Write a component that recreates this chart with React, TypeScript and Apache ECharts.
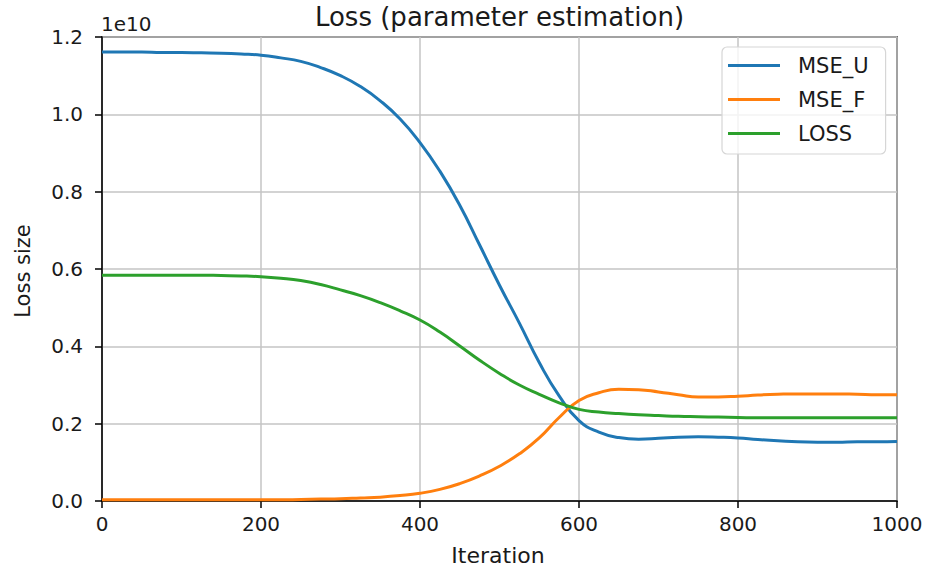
import React, { useEffect, useRef } from "react";
import * as echarts from "echarts";

const iterations = [
  0, 25, 50, 75, 100, 125, 150, 175, 200, 225, 250, 275, 300, 325, 350, 375, 400, 425, 450, 475, 500,
  525, 550, 575, 600, 625, 650, 675, 700, 725, 750, 775, 800, 825, 850, 875, 900, 925, 950, 975, 1000,
];
const mseU = [
  1.161, 1.161, 1.161, 1.160, 1.160, 1.159, 1.158, 1.156, 1.153, 1.146, 1.137, 1.121, 1.100, 1.072, 1.035, 0.988, 0.927, 0.853, 0.765, 0.662, 0.558,
  0.460, 0.358, 0.272, 0.208, 0.178, 0.164, 0.160, 0.162, 0.165, 0.166, 0.165, 0.163, 0.159, 0.156, 0.153, 0.152, 0.152, 0.153, 0.153, 0.154,
];
const mseF = [
  0.003, 0.003, 0.003, 0.003, 0.003, 0.003, 0.003, 0.003, 0.003, 0.003, 0.004, 0.005, 0.006, 0.008, 0.010, 0.014, 0.020, 0.030, 0.045, 0.065, 0.090,
  0.122, 0.163, 0.216, 0.260, 0.280, 0.289, 0.288, 0.282, 0.275, 0.269, 0.269, 0.271, 0.274, 0.276, 0.277, 0.277, 0.277, 0.276, 0.275, 0.275,
];
const loss = [
  0.584, 0.584, 0.584, 0.584, 0.584, 0.584, 0.583, 0.582, 0.580, 0.576, 0.570, 0.560, 0.546, 0.531, 0.513, 0.492, 0.468, 0.437, 0.401, 0.364, 0.330,
  0.300, 0.276, 0.254, 0.237, 0.230, 0.226, 0.223, 0.221, 0.219, 0.218, 0.217, 0.216, 0.215, 0.215, 0.215, 0.215, 0.215, 0.215, 0.215, 0.215,
];

const seriesNames = ["MSE_U", "MSE_F", "LOSS"];
const seriesColors = ["#1f77b4", "#ff7f0e", "#2ca02c"];
const xTicks = [0, 200, 400, 600, 800, 1000];
const yTicks = [0.0, 0.2, 0.4, 0.6, 0.8, 1.0, 1.2];

const titleText = "Loss (parameter estimation)";
const xLabel = "Iteration";
const yLabel = "Loss size";
const scaleText = "1e10";

const FONT = "DejaVu Sans";
const TEXT_COLOR = "#1a1a1a";

export default function App() {
  const ref = useRef<HTMLDivElement>(null);

  useEffect(() => {
    document.body.style.margin = "0";
    if (!ref.current) return;
    const chart = echarts.init(ref.current, undefined, { renderer: "svg" });
    const allValues = [mseU, mseF, loss];
    const series = seriesNames.map((name, i) => ({
      name,
      type: "line",
      data: iterations.map((x, j) => [x, allValues[i][j]]),
      smooth: 0.5,
      showSymbol: false,
      symbol: "none",
      lineStyle: { color: seriesColors[i], width: 3 },
      itemStyle: { color: seriesColors[i] },
      z: 3 + i,
    }));

    chart.setOption({
      animation: false,
      backgroundColor: "#ffffff",
      textStyle: { fontFamily: FONT },
      grid: {
        left: 102,
        right: 32,
        top: 37,
        bottom: 68,
        show: true,
        borderColor: "#000",
        borderWidth: 1.5,
        backgroundColor: "transparent",
        containLabel: false,
      },
      xAxis: {
        type: "value",
        min: xTicks[0],
        max: xTicks[xTicks.length - 1],
        interval: 200,
        axisLine: { show: true, onZero: false, lineStyle: { color: "#000", width: 1.5 } },
        axisTick: { show: true, length: 7, lineStyle: { color: "#000", width: 1.5 } },
        axisLabel: {
          fontSize: 20,
          color: TEXT_COLOR,
          fontFamily: FONT,
          margin: 13,
          formatter: (v: number) => String(v),
        },
        splitLine: { show: true, lineStyle: { color: "#c4c4c4", width: 1.5 } },
      },
      yAxis: {
        type: "value",
        min: yTicks[0],
        max: yTicks[yTicks.length - 1],
        interval: 0.2,
        axisLine: { show: true, onZero: false, lineStyle: { color: "#000", width: 1.5 } },
        axisTick: { show: true, length: 7, lineStyle: { color: "#000", width: 1.5 } },
        axisLabel: {
          fontSize: 20,
          color: TEXT_COLOR,
          fontFamily: FONT,
          margin: 19,
          formatter: (v: number) => v.toFixed(1),
        },
        splitLine: { show: true, lineStyle: { color: "#c4c4c4", width: 1.5 } },
      },
      legend: {
        data: seriesNames,
        orient: "vertical",
        left: 722,
        top: 47,
        icon: "rect",
        itemWidth: 52,
        itemHeight: 3,
        itemGap: 13,
        padding: [8, 17, 10, 6],
        borderColor: "#d6d6d6",
        borderWidth: 1.2,
        borderRadius: 5,
        backgroundColor: "rgba(255,255,255,0.8)",
        textStyle: {
          fontSize: 21,
          fontFamily: FONT,
          color: TEXT_COLOR,
          lineHeight: 20,
          padding: [0, 0, 0, 13],
        },
      },
      graphic: [
        {
          type: "text",
          x: 499.5,
          y: 16.5,
          style: {
            text: titleText,
            font: `26px '${FONT}'`,
            fill: TEXT_COLOR,
            align: "center",
            verticalAlign: "middle",
          },
        },
        {
          type: "text",
          x: 101,
          y: 23.5,
          style: {
            text: scaleText,
            font: `20px '${FONT}'`,
            fill: TEXT_COLOR,
            align: "left",
            verticalAlign: "middle",
          },
        },
        {
          type: "text",
          x: 498,
          y: 555,
          style: {
            text: xLabel,
            font: `22px '${FONT}'`,
            fill: TEXT_COLOR,
            align: "center",
            verticalAlign: "middle",
          },
        },
        {
          type: "text",
          x: 23,
          y: 271,
          rotation: Math.PI / 2,
          style: {
            text: yLabel,
            font: `21px '${FONT}'`,
            fill: TEXT_COLOR,
            align: "center",
            verticalAlign: "middle",
          },
        },
      ],
      series,
    });

    return () => {
      chart.dispose();
    };
  }, []);

  return <div ref={ref} style={{ width: 929, height: 569 }} />;
}
